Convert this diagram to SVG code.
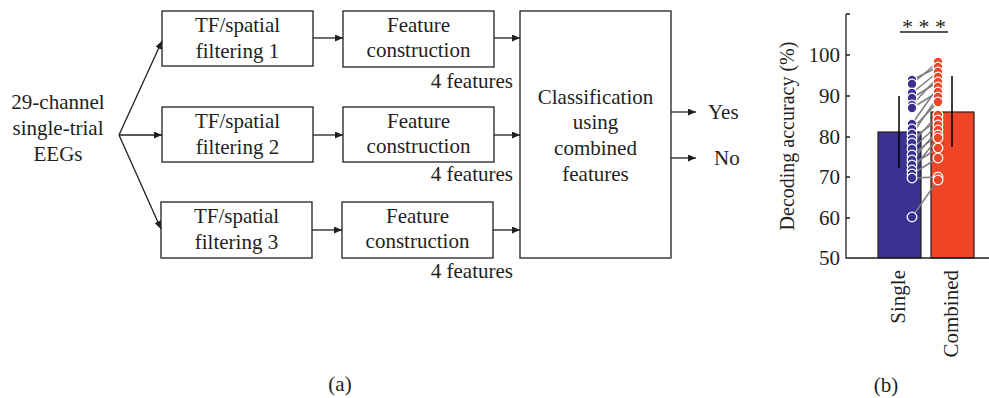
<svg xmlns="http://www.w3.org/2000/svg" width="989" height="398" viewBox="0 0 989 398">
<style>
text{font-family:"Liberation Serif","Times New Roman",serif;font-size:21px;fill:#231f20}
.box{fill:#fff;stroke:#231f20;stroke-width:1.3}
.c{text-anchor:middle}
.e{text-anchor:end}
.ar{stroke:#231f20;stroke-width:1.3;fill:none;marker-end:url(#ah)}
.ax{stroke:#231f20;stroke-width:1.3;fill:none}
.pl{stroke:#7d7d7d;stroke-width:1.5}
.sb{fill:#3b3191;stroke:#fff;stroke-width:1.3}
.cb{fill:#ef4526;stroke:#fff;stroke-width:1.3}
.tk{font-size:21px}
</style>
<defs>
<marker id="ah" markerUnits="userSpaceOnUse" markerWidth="9" markerHeight="8" refX="8" refY="3.5" orient="auto">
<path d="M0,0 L8,3.5 L0,7 z" fill="#231f20"/>
</marker>
</defs>

<g id="input">
<text class="c" x="58" y="109">29-channel</text>
<text class="c" x="58" y="135">single-trial</text>
<text class="c" x="58" y="161">EEGs</text>
</g>

<g id="filter1"><rect class="box" x="162" y="11" width="151" height="55"/><text class="c" x="237.5" y="32">TF/spatial</text><text class="c" x="237.5" y="58">filtering 1</text></g>
<g id="filter2"><rect class="box" x="162" y="107" width="151" height="55"/><text class="c" x="237.5" y="128">TF/spatial</text><text class="c" x="237.5" y="154">filtering 2</text></g>
<g id="filter3"><rect class="box" x="161" y="202" width="151" height="56"/><text class="c" x="236.5" y="223">TF/spatial</text><text class="c" x="236.5" y="249">filtering 3</text></g>

<g id="feature1"><rect class="box" x="343" y="11" width="151" height="56"/><text class="c" x="418.5" y="32">Feature</text><text class="c" x="418.5" y="57">construction</text><text class="e" x="513" y="88">4 features</text></g>
<g id="feature2"><rect class="box" x="343" y="107" width="151" height="55"/><text class="c" x="418.5" y="128">Feature</text><text class="c" x="418.5" y="153">construction</text><text class="e" x="513" y="181">4 features</text></g>
<g id="feature3"><rect class="box" x="342" y="202" width="151" height="56"/><text class="c" x="417.5" y="223">Feature</text><text class="c" x="417.5" y="248">construction</text><text class="e" x="513" y="278">4 features</text></g>

<g id="classifier"><rect class="box" x="520" y="11" width="151" height="247"/>
<text class="c" x="595.5" y="104">Classification</text>
<text class="c" x="595.5" y="129">using</text>
<text class="c" x="595.5" y="155">combined</text>
<text class="c" x="595.5" y="181">features</text></g>

<g id="outputs"><text x="708" y="119">Yes</text><text x="714" y="165">No</text></g>

<g id="connectors">
<path class="ar" d="M119,135 L162,41"/>
<path class="ar" d="M119,135 L162,135"/>
<path class="ar" d="M119,135 L161,229"/>
<path class="ar" d="M313,38 H343"/>
<path class="ar" d="M313,135 H343"/>
<path class="ar" d="M312,230 H342"/>
<path class="ar" d="M494,38 H520"/>
<path class="ar" d="M494,135 H520"/>
<path class="ar" d="M493,230 H520"/>
<path class="ar" d="M671,112 H696"/>
<path class="ar" d="M671,158 H696"/>
</g>

<text class="c" x="340" y="391">(a)</text>

<g id="chart">
<rect x="878" y="132" width="43" height="126" fill="#3b3191" stroke="#231f20" stroke-width="1.2"/>
<rect x="931" y="112" width="43" height="146" fill="#ef4526" stroke="#231f20" stroke-width="1.2"/>
<path class="ax" d="M846,14 V258 H989 M846,14 H850 M846,55 H850 M846,96 H850 M846,137 H850 M846,177 H850 M846,218 H850"/>
<text class="e tk" x="840" y="62">100</text>
<text class="e tk" x="840" y="103">90</text>
<text class="e tk" x="840" y="144">80</text>
<text class="e tk" x="840" y="184">70</text>
<text class="e tk" x="840" y="225">60</text>
<text class="e tk" x="840" y="265">50</text>
<text class="c" transform="translate(794,136) rotate(-90)" style="font-size:20px">Decoding accuracy (%)</text>
<text class="e" transform="translate(905,270) rotate(-90)">Single</text>
<text class="e" transform="translate(958,270) rotate(-90)">Combined</text>
<g>
<line class="pl" x1="912" y1="80" x2="938" y2="67"/>
<line class="pl" x1="912" y1="84" x2="938" y2="62"/>
<line class="pl" x1="912" y1="93" x2="938" y2="72"/>
<line class="pl" x1="912" y1="98" x2="938" y2="82"/>
<line class="pl" x1="912" y1="105" x2="938" y2="77"/>
<line class="pl" x1="912" y1="108" x2="938" y2="92"/>
<line class="pl" x1="912" y1="124" x2="938" y2="87"/>
<line class="pl" x1="912" y1="129" x2="938" y2="102"/>
<line class="pl" x1="912" y1="134" x2="938" y2="97"/>
<line class="pl" x1="912" y1="139" x2="938" y2="120"/>
<line class="pl" x1="912" y1="143" x2="938" y2="115"/>
<line class="pl" x1="912" y1="149" x2="938" y2="125"/>
<line class="pl" x1="912" y1="155" x2="938" y2="135"/>
<line class="pl" x1="912" y1="160" x2="938" y2="130"/>
<line class="pl" x1="912" y1="165" x2="938" y2="148"/>
<line class="pl" x1="912" y1="170" x2="938" y2="138"/>
<line class="pl" x1="912" y1="174" x2="938" y2="158"/>
<line class="pl" x1="912" y1="178" x2="938" y2="177"/>
<line class="pl" x1="912" y1="217" x2="938" y2="180"/>
</g>
<g>
<circle class="sb" cx="912" cy="80" r="4.8"/><circle class="sb" cx="912" cy="84" r="4.8"/><circle class="sb" cx="912" cy="93" r="4.8"/><circle class="sb" cx="912" cy="98" r="4.8"/><circle class="sb" cx="912" cy="105" r="4.8"/><circle class="sb" cx="912" cy="108" r="4.8"/><circle class="sb" cx="912" cy="124" r="4.8"/><circle class="sb" cx="912" cy="129" r="4.8"/><circle class="sb" cx="912" cy="134" r="4.8"/><circle class="sb" cx="912" cy="139" r="4.8"/><circle class="sb" cx="912" cy="143" r="4.8"/><circle class="sb" cx="912" cy="149" r="4.8"/><circle class="sb" cx="912" cy="155" r="4.8"/><circle class="sb" cx="912" cy="160" r="4.8"/><circle class="sb" cx="912" cy="165" r="4.8"/><circle class="sb" cx="912" cy="170" r="4.8"/><circle class="sb" cx="912" cy="174" r="4.8"/><circle class="sb" cx="912" cy="178" r="4.8"/><circle class="sb" cx="912" cy="217" r="4.8"/>
</g>
<g>
<circle class="cb" cx="938" cy="62" r="4.8"/><circle class="cb" cx="938" cy="67" r="4.8"/><circle class="cb" cx="938" cy="72" r="4.8"/><circle class="cb" cx="938" cy="77" r="4.8"/><circle class="cb" cx="938" cy="82" r="4.8"/><circle class="cb" cx="938" cy="87" r="4.8"/><circle class="cb" cx="938" cy="92" r="4.8"/><circle class="cb" cx="938" cy="97" r="4.8"/><circle class="cb" cx="938" cy="102" r="4.8"/><circle class="cb" cx="938" cy="115" r="4.8"/><circle class="cb" cx="938" cy="120" r="4.8"/><circle class="cb" cx="938" cy="125" r="4.8"/><circle class="cb" cx="938" cy="130" r="4.8"/><circle class="cb" cx="938" cy="135" r="4.8"/><circle class="cb" cx="938" cy="138" r="4.8"/><circle class="cb" cx="938" cy="148" r="4.8"/><circle class="cb" cx="938" cy="158" r="4.8"/><circle class="cb" cx="938" cy="177" r="4.8"/><circle class="cb" cx="938" cy="180" r="4.8"/>
</g>
<path d="M899,96 V168 M952,76 V147" stroke="#000" stroke-width="1.5"/>
<path class="ax" d="M900,32 H948"/>
<text class="c" x="924" y="34" style="font-size:22px">* * *</text>
</g>

<text class="c" x="886" y="392">(b)</text>
</svg>
